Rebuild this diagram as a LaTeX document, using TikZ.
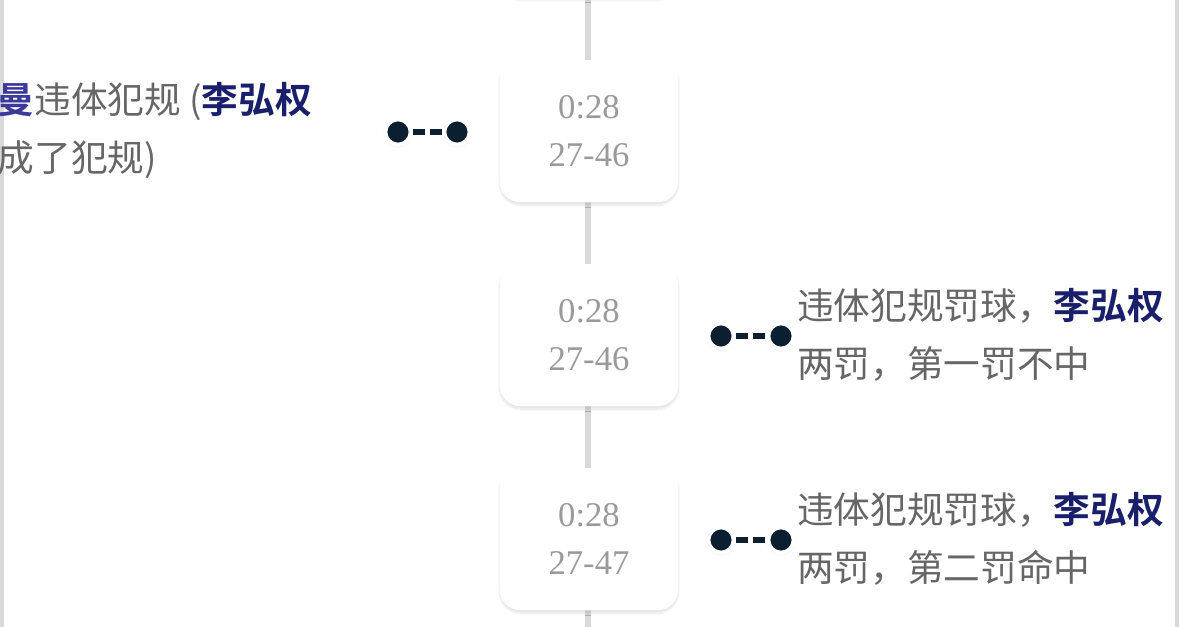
\documentclass[tikz,border=0pt]{standalone}
\usepackage{fontspec}
\setmainfont{Liberation Serif}
\newfontfamily\cjk{Noto Sans CJK SC}[BoldFont={Noto Sans CJK SC Bold}]
\usetikzlibrary{positioning, calc, shadows.blur}
\definecolor{tlgray}{HTML}{D9D9D9}
\definecolor{tltext}{HTML}{666666}
\definecolor{tltime}{HTML}{9A9A9A}
\definecolor{tlnavy}{HTML}{1A1F6B}
\definecolor{tlpurple}{HTML}{3B3A9A}
\definecolor{tldot}{HTML}{0B1F30}
\begin{document}
\begin{tikzpicture}[
    x=0.75pt, y=-0.75pt,
    timebox/.style={rectangle, rounded corners=16pt, fill=white, minimum width=134pt, minimum height=107pt, align=center, font=\fontsize{26}{36}\selectfont\color{tltime}, blur shadow={shadow blur steps=8, shadow xshift=0pt, shadow yshift=-2pt, shadow opacity=12}},
    pin/.style={circle, fill=tldot, draw=white, line width=3pt, minimum size=19pt, inner sep=0pt, blur shadow={shadow blur steps=5, shadow xshift=0pt, shadow yshift=-1pt, shadow opacity=15}},
    link/.style={tldot, line width=4pt, dash pattern=on 9pt off 4pt},
    event/.style={align=left, font=\cjk\fontsize{27.5}{43.5}\selectfont\color{tltext}, inner sep=0pt},
]
\useasboundingbox (0,0) rectangle (1179,627);

% rails
\fill[tlgray] (0,0) rectangle (4,627);
\fill[tlgray] (1175,0) rectangle (1179,627);
\fill[tlgray] (585,0) rectangle (591,627);

% time boxes
\node[timebox] (t0) at (589,-74) {0:28\\27-46};
\node[timebox] (t1) at (589,131) {0:28\\27-46};
\node[timebox] (t2) at (589,335) {0:28\\27-46};
\node[timebox] (t3) at (589,539) {0:28\\27-47};

% connectors
\node[pin] (a1) at (398,132) {};
\node[pin] (b1) at (457,132) {};
\draw[link] (a1) -- (b1);
\node[pin] (a2) at (721,336) {};
\node[pin] (b2) at (781,336) {};
\draw[link] (a2) -- (b2);
\node[pin] (a3) at (721,540) {};
\node[pin] (b3) at (781,540) {};
\draw[link] (a3) -- (b3);

% events
\node[event, anchor=east] (e1) at (361,131) {{\bfseries\color{tlpurple}杰曼}违体犯规 ({\bfseries\color{tlnavy}李弘权}\\造成了犯规)\hphantom{犯规 (李弘权}};
\node[event, anchor=west] (e2) at (797,335) {违体犯规罚球，{\bfseries\color{tlnavy}李弘权}\\两罚，第一罚不中};
\node[event, anchor=west] (e3) at (797,539) {违体犯规罚球，{\bfseries\color{tlnavy}李弘权}\\两罚，第二罚命中};

\end{tikzpicture}
\end{document}
